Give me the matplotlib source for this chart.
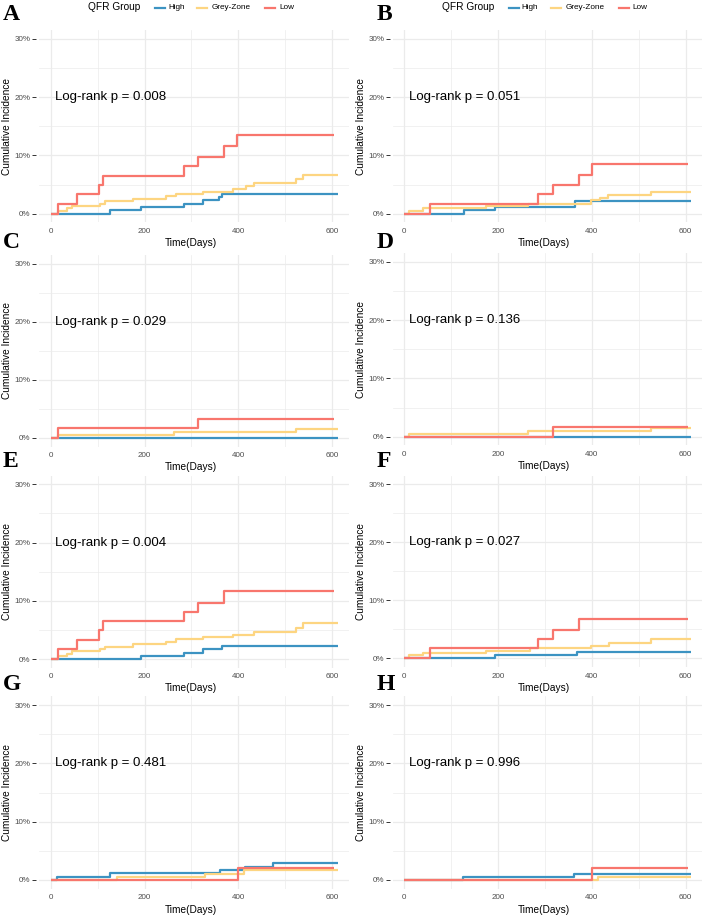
import numpy as np
import matplotlib
matplotlib.use("Agg")
import matplotlib.pyplot as plt
from matplotlib.lines import Line2D

plt.rcParams["font.family"] = ["Liberation Sans", "DejaVu Sans"]

# ---- data (cumulative incidence in %, step times in days) ----
groups = ["High", "Grey-Zone", "Low"]
colors = ["#3C93C2", "#FDD581", "#F8766D"]
panel_letters = ["A", "B", "C", "D", "E", "F", "G", "H"]
p_values = ["0.008", "0.051", "0.029", "0.136", "0.004", "0.027", "0.481", "0.996"]

a_high_t = [0, 126, 193, 285, 324, 358, 365, 612]
a_high_y = [0, 0.6, 1.1, 1.7, 2.3, 2.8, 3.4, 3.4]
a_grey_t = [0, 16, 35, 45, 105, 115, 175, 245, 268, 324, 388, 416, 434, 522, 538, 612]
a_grey_y = [0, 0.5, 0.9, 1.3, 1.7, 2.1, 2.6, 3.0, 3.4, 3.8, 4.2, 4.7, 5.2, 5.9, 6.6, 6.6]
a_low_t = [0, 16, 55, 103, 112, 285, 315, 370, 398, 604]
a_low_y = [0, 1.7, 3.3, 4.9, 6.5, 8.1, 9.7, 11.6, 13.5, 13.5]

b_high_t = [0, 128, 194, 364, 612]
b_high_y = [0, 0.6, 1.1, 2.2, 2.2]
b_grey_t = [0, 11, 39, 174, 263, 399, 418, 434, 525, 612]
b_grey_y = [0, 0.5, 0.9, 1.3, 1.7, 2.3, 2.7, 3.2, 3.8, 3.8]
b_low_t = [0, 55, 285, 317, 372, 401, 604]
b_low_y = [0, 1.7, 3.3, 4.9, 6.7, 8.6, 8.6]

c_high_t = [0, 612]
c_high_y = [0, 0]
c_grey_t = [0, 16, 262, 522, 612]
c_grey_y = [0, 0.5, 1.0, 1.5, 1.5]
c_low_t = [0, 16, 315, 604]
c_low_y = [0, 1.7, 3.3, 3.3]

d_high_t = [0, 612]
d_high_y = [0, 0]
d_grey_t = [0, 11, 263, 525, 612]
d_grey_y = [0, 0.5, 0.9, 1.5, 1.5]
d_low_t = [0, 318, 604]
d_low_y = [0, 1.7, 1.7]

e_high_t = [0, 193, 285, 324, 365, 612]
e_high_y = [0, 0.6, 1.1, 1.7, 2.3, 2.3]
e_grey_t = [0, 16, 35, 45, 105, 115, 175, 245, 268, 324, 388, 434, 522, 538, 612]
e_grey_y = [0, 0.5, 0.9, 1.3, 1.7, 2.1, 2.6, 3.0, 3.4, 3.8, 4.2, 4.7, 5.4, 6.1, 6.1]
e_low_t = [0, 16, 55, 103, 112, 285, 315, 370, 604]
e_low_y = [0, 1.7, 3.3, 4.9, 6.5, 8.1, 9.7, 11.6, 11.6]

f_high_t = [0, 194, 368, 612]
f_high_y = [0, 0.6, 1.1, 1.1]
f_grey_t = [0, 11, 39, 174, 268, 399, 436, 525, 612]
f_grey_y = [0, 0.5, 0.9, 1.3, 1.7, 2.2, 2.7, 3.3, 3.3]
f_low_t = [0, 55, 286, 317, 372, 604]
f_low_y = [0, 1.7, 3.3, 4.9, 6.7, 6.7]

g_high_t = [0, 13, 126, 360, 414, 475, 612]
g_high_y = [0, 0.6, 1.2, 1.7, 2.3, 2.9, 2.9]
g_grey_t = [0, 142, 328, 412, 612]
g_grey_y = [0, 0.5, 1.0, 1.8, 1.8]
g_low_t = [0, 399, 604]
g_low_y = [0, 2.0, 2.0]

h_high_t = [0, 126, 361, 612]
h_high_y = [0, 0.6, 1.1, 1.1]
h_grey_t = [0, 414, 612]
h_grey_y = [0, 0.6, 0.6]
h_low_t = [0, 401, 604]
h_low_y = [0, 2.0, 2.0]

curves = [
    [(a_high_t, a_high_y), (a_grey_t, a_grey_y), (a_low_t, a_low_y)],
    [(b_high_t, b_high_y), (b_grey_t, b_grey_y), (b_low_t, b_low_y)],
    [(c_high_t, c_high_y), (c_grey_t, c_grey_y), (c_low_t, c_low_y)],
    [(d_high_t, d_high_y), (d_grey_t, d_grey_y), (d_low_t, d_low_y)],
    [(e_high_t, e_high_y), (e_grey_t, e_grey_y), (e_low_t, e_low_y)],
    [(f_high_t, f_high_y), (f_grey_t, f_grey_y), (f_low_t, f_low_y)],
    [(g_high_t, g_high_y), (g_grey_t, g_grey_y), (g_low_t, g_low_y)],
    [(h_high_t, h_high_y), (h_grey_t, h_grey_y), (h_low_t, h_low_y)],
]

# ---- layout (pixels) ----
W, H = 702, 919
fig = plt.figure(figsize=(W / 100, H / 100), dpi=100)

xlim = (-25, 635)
ylim = (-1.5, 31.5)
col_left = [39.0, 392.6]
ax_w = 309.5
# pixel y of 0% and 30% for each panel
y0_px = [213.7, 213.7, 438.0, 436.7, 659.0, 658.3, 880.0, 880.0]
y30_px = [38.7, 38.7, 263.7, 261.7, 484.3, 484.3, 705.0, 705.0]
letter_base = [20, 20, 248, 248, 467, 467, 690, 690]

grid_c = "#EBEBEB"
for i in range(8):
    col = i % 2
    ppp = (y0_px[i] - y30_px[i]) / 30.0
    top = y30_px[i] - 1.5 * ppp
    bot = y0_px[i] + 1.5 * ppp
    ax = fig.add_axes([col_left[col] / W, 1 - bot / H, ax_w / W, (bot - top) / H])
    ax.set_xlim(*xlim)
    ax.set_ylim(*ylim)
    for s in ax.spines.values():
        s.set_visible(False)
    ax.spines["left"].set_position(("outward", 2))

    ax.set_xticks([0, 200, 400, 600])
    ax.set_xticks([100, 300, 500], minor=True)
    ax.set_yticks([0, 10, 20, 30])
    ax.set_yticks([5, 15, 25], minor=True)
    ax.set_yticklabels(["0%", "10%", "20%", "30%"])
    ax.grid(True, which="major", color=grid_c, lw=0.9)
    ax.grid(True, which="minor", color=grid_c, lw=0.5)
    ax.set_axisbelow(True)
    ax.tick_params(axis="x", which="both", length=0, pad=4, labelsize=5.8, labelcolor="#4D4D4D")
    ax.tick_params(axis="y", which="major", length=3, width=0.7, color="#333333",
                   pad=1, labelsize=5.8, labelcolor="#4D4D4D")
    ax.tick_params(axis="y", which="minor", length=0)

    for (t, y), c in zip(curves[i], colors):
        ax.step(t, y, where="post", color=c, lw=1.6, solid_capstyle="butt")

    ax.text(10, 20, f"Log-rank p = {p_values[i]}", fontsize=9.5, color="black",
            ha="left", va="center")

    ax.set_ylabel("Cumulative Incidence", fontsize=7.3, va="center")
    ax.yaxis.set_label_coords(-0.103, 0.5)
    ax.set_xlabel("Time(Days)", fontsize=7.3, va="center")
    ax.xaxis.set_label_coords(0.49, -0.108)

    fig.text((3 if col == 0 else 377) / W, 1 - letter_base[i] / H, panel_letters[i],
             fontsize=17, fontweight="bold", family="Liberation Serif",
             ha="left", va="baseline")

# ---- legends above the top panels ----
leg_y = 1 - 7.5 / H
line_x = [155, 197, 265]
text_x = [168, 212, 279]
for off in [0, 353.6]:
    fig.text((88 + off) / W, leg_y, "QFR Group", fontsize=7.3, ha="left", va="center")
    for g, c, lx, tx in zip(groups, colors, line_x, text_x):
        fig.add_artist(Line2D([(lx + off) / W, (lx + 10 + off) / W], [leg_y, leg_y],
                              transform=fig.transFigure, color=c, lw=1.6))
        fig.text((tx + off) / W, leg_y, g, fontsize=5.9, ha="left", va="center")

fig.savefig("out.png", dpi=100)
